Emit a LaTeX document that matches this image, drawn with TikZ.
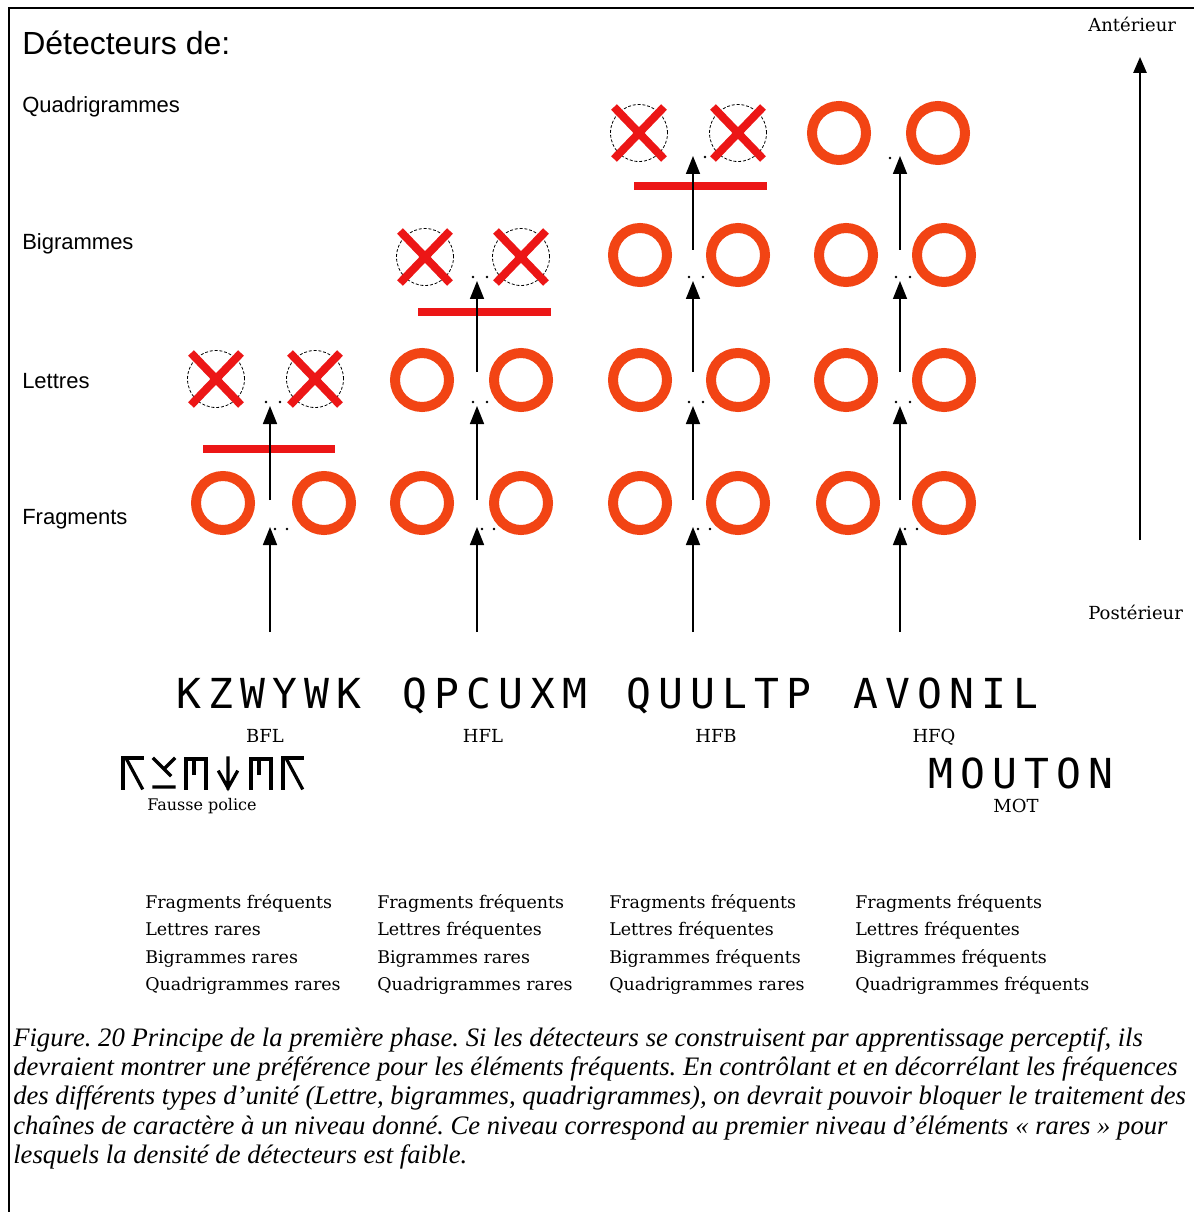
\documentclass[tikz,border=0pt]{standalone}
\usepackage{fontspec}
\setmainfont{Liberation Serif}
\newfontfamily\arialf{Liberation Sans}
\newfontfamily\dvserif{DejaVu Serif}
\newfontfamily\monof{DejaVu Sans Mono}
\usetikzlibrary{arrows.meta}
\definecolor{ringc}{RGB}{242,68,20}
\definecolor{barc}{RGB}{236,22,22}
\newcommand\mstr[1]{\mstrloop#1\relax}
\def\mstrloop#1{\ifx#1\relax\else\makebox[24pt]{#1}\expandafter\mstrloop\fi}
\tikzset{
  ring/.style={circle, draw=ringc, line width=7.5pt, minimum size=40.5pt, inner sep=0pt},
  crossed/.style={circle, draw=black, line width=0.6pt, dash pattern=on 2.2pt off 1.4pt, minimum size=42.75pt, inner sep=0pt},
  xline/.style={draw=barc, line width=6pt},
  bar/.style={draw=barc, line width=6pt},
  arr/.style={draw=black, line width=1.2pt, -{Triangle[width=10.5pt,length=13.5pt]}},
  axisarr/.style={draw=black, line width=1.3pt, -{Triangle[width=10pt,length=12pt]}},
  dotm/.style={fill=black, circle, inner sep=0pt, minimum size=2pt},
  rowlab/.style={anchor=base west, inner sep=0pt, font=\arialf\fontsize{16.5}{19}\selectfont},
  strlab/.style={anchor=base, inner sep=0pt, text depth=0pt, font=\monof\fontsize{31}{36}\selectfont},
  code/.style={anchor=base, inner sep=0pt, font=\dvserif\fontsize{13.5}{16}\selectfont},
  serlab/.style={anchor=base west, inner sep=0pt, font=\dvserif\fontsize{13.5}{16}\selectfont},
  listlab/.style={anchor=base west, inner sep=0pt, font=\dvserif\fontsize{13.1}{16}\selectfont},
  caplab/.style={anchor=base west, inner sep=0pt, font=\frenchspacing\itshape\fontsize{20}{24}\selectfont},
  glyph/.style={draw=black, line width=2.4pt, line cap=rect}
}
\begin{document}
\begin{tikzpicture}[x=0.75pt, y=-0.75pt]
\useasboundingbox (0,0) rectangle (1194,1212);
\fill[white] (0,0) rectangle (1194,1212);
% frame
\draw[line width=1.5pt] (9,1212) -- (9,8) -- (1194,8);

% titles
\node[anchor=base west, inner sep=0pt, font=\arialf\fontsize{24}{28}\selectfont] (title) at (22,55) {Détecteurs de:};
\node[rowlab] (lq) at (22,113) {Quadrigrammes};
\node[rowlab] (lb) at (22,250) {Bigrammes};
\node[rowlab] (ll) at (22,388) {Lettres};
\node[rowlab] (lf) at (22,524) {Fragments};

% Fragments row
\node[ring] (f1a) at (223,503) {};
\node[ring] (f1b) at (324,503) {};
\node[ring] (f2a) at (422,503) {};
\node[ring] (f2b) at (521,503) {};
\node[ring] (f3a) at (640,503) {};
\node[ring] (f3b) at (738,503) {};
\node[ring] (f4a) at (848,503) {};
\node[ring] (f4b) at (944,503) {};
% Lettres row
\node[crossed] (l1a) at (216,379) {};
\node[crossed] (l1b) at (315,379) {};
\node[ring] (l2a) at (422,380) {};
\node[ring] (l2b) at (521,380) {};
\node[ring] (l3a) at (640,380) {};
\node[ring] (l3b) at (738,380) {};
\node[ring] (l4a) at (846,380) {};
\node[ring] (l4b) at (944,380) {};
% Bigrammes row
\node[crossed] (b2a) at (425,257) {};
\node[crossed] (b2b) at (521,257) {};
\node[ring] (b3a) at (640,255) {};
\node[ring] (b3b) at (738,255) {};
\node[ring] (b4a) at (846,255) {};
\node[ring] (b4b) at (944,255) {};
% Quadrigrammes row
\node[crossed] (q3a) at (639,133) {};
\node[crossed] (q3b) at (738,133) {};
\node[ring] (q4a) at (839,133) {};
\node[ring] (q4b) at (938,133) {};

% crosses
\foreach \n in {l1a,l1b,b2a,b2b,q3a,q3b}{
  \draw[xline] (\n.center) +(-25,-26) -- +(25,26) +(-25,26) -- +(25,-26);
}

% red bars
\draw[bar] (203,449) -- (335,449);
\draw[bar] (418,312) -- (551,312);
\draw[bar] (634,186) -- (767,186);

% arrows
\foreach \c/\x in {1/270,2/477,3/693,4/900}{
  \coordinate (s\c a) at (\x,632); \coordinate (t\c a) at (\x,527);
  \draw[arr] (s\c a) -- (t\c a);
  \node[dotm] at (\x+5,529) {}; \node[dotm] at (\x+17,529) {};
  \coordinate (s\c b) at (\x,500); \coordinate (t\c b) at (\x,406);
  \draw[arr] (s\c b) -- (t\c b);
  \node[dotm] at (\x-4,402) {}; \node[dotm] at (\x+10,402) {};
}
\foreach \c/\x in {2/477,3/693,4/900}{
  \coordinate (s\c c) at (\x,372); \coordinate (t\c c) at (\x,281);
  \draw[arr] (s\c c) -- (t\c c);
  \node[dotm] at (\x-4,277) {}; \node[dotm] at (\x+10,277) {};
}
\foreach \c/\x in {3/693,4/900}{
  \coordinate (s\c d) at (\x,250); \coordinate (t\c d) at (\x,156);
  \draw[arr] (s\c d) -- (t\c d);
}
\node[dotm] at (705,157) {};
\node[dotm] at (890,158) {};

% axis
\coordinate (axb) at (1140,540);
\coordinate (axt) at (1140,57);
\draw[axisarr] (axb) -- (axt);
\node[serlab] (ant) at (1088,32) {Antérieur};
\node[serlab] (post) at (1088,619) {Postérieur};

% strings
\node[strlab] (w1) at (269,708) {\mstr{KZWYWK}};
\node[strlab] (w2) at (495,708) {\mstr{QPCUXM}};
\node[strlab] (w3) at (719,708) {\mstr{QUULTP}};
\node[strlab] (w4) at (946,708) {\mstr{AVONIL}};
\node[strlab] (w5) at (1021,788) {\mstr{MOUTON}};

\node[code] (c1) at (265,742) {BFL};
\node[code] (c2) at (483,742) {HFL};
\node[code] (c3) at (716,742) {HFB};
\node[code] (c4) at (934,742) {HFQ};
\node[code, text height=9.5pt] (c5) at (1016,812) {MOT};

% fake font
\draw[glyph] (123,788) -- (123,758) -- (142,758);
\draw[glyph] (127,760) -- (142,788);
\draw[glyph] (154,759) -- (170,775) (174,759) -- (166,767) (154,787) -- (174,787);
\draw[glyph] (186,788) -- (186,759) -- (206,759) -- (206,788) (194,759) -- (194,773);
\draw[glyph] (228,758) -- (228,788) (219,772) -- (228,788) -- (237,772);
\draw[glyph] (251,788) -- (251,759) -- (271,759) -- (271,788) (259,759) -- (259,773);
\draw[glyph] (283,788) -- (283,758) -- (302,758);
\draw[glyph] (287,760) -- (302,788);
\node[serlab, font=\dvserif\fontsize{12}{14}\selectfont] (fp) at (147,810) {Fausse police};

% lists
\foreach \x/\a/\b/\c/\d [count=\i] in {
 145/{Fragments fréquents}/{Lettres rares}/{Bigrammes rares}/{Quadrigrammes rares},
 377/{Fragments fréquents}/{Lettres fréquentes}/{Bigrammes rares}/{Quadrigrammes rares},
 609/{Fragments fréquents}/{Lettres fréquentes}/{Bigrammes fréquents}/{Quadrigrammes rares},
 855/{Fragments fréquents}/{Lettres fréquentes}/{Bigrammes fréquents}/{Quadrigrammes fréquents}}{
  \node[listlab] (k\i a) at (\x,908) {\a};
  \node[listlab] (k\i b) at (\x,935) {\b};
  \node[listlab] (k\i c) at (\x,963) {\c};
  \node[listlab] (k\i d) at (\x,990) {\d};
}

% caption
\node[caplab] (cap1) at (13,1046) {Figure. 20 Principe de la première phase. Si les détecteurs se construisent par apprentissage perceptif, ils};
\node[caplab] (cap2) at (13,1075) {devraient montrer une préférence pour les éléments fréquents. En contrôlant et en décorrélant les fréquences};
\node[caplab] (cap3) at (13,1104) {des différents types d’unité (Lettre, bigrammes, quadrigrammes), on devrait pouvoir bloquer le traitement des};
\node[caplab] (cap4) at (13,1134) {chaînes de caractère à un niveau donné. Ce niveau correspond au premier niveau d’éléments « rares » pour};
\node[caplab] (cap5) at (13,1163) {lesquels la densité de détecteurs est faible.};
\end{tikzpicture}
\end{document}
